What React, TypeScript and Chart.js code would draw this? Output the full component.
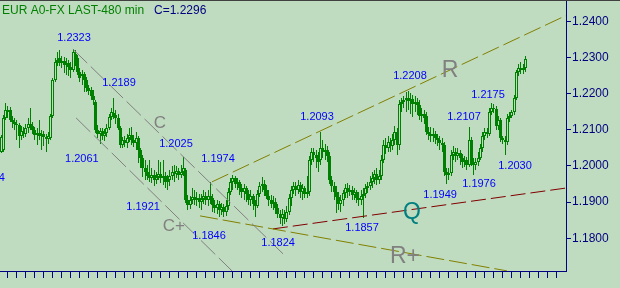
import { useEffect, useRef } from 'react';
import { Chart, registerables } from 'chart.js';

Chart.register(...registerables);

const FONT = '"Liberation Sans", Arial, Helvetica, sans-serif';
const BG = '#C0DCC0';
const GREEN = '#008000';
const NAVY = '#000080';
const BLUE = '#0000FF';
const GRAY = '#808080';
const OLIVE = '#808000';
const MAROON = '#800000';
const TEAL = '#008080';

const TITLE = 'EUR A0-FX LAST-480 min';
const LAST_TEXT = 'C=1.2296';

// 480-minute candles, oldest first
const OPEN = [
  1.2039, 1.2044, 1.2133, 1.2155, 1.2155, 1.2127, 1.2122, 1.2116, 1.2113, 1.2083,
  1.2097, 1.2088, 1.2105, 1.2116, 1.2111, 1.2099, 1.2086, 1.2091, 1.2083, 1.2088,
  1.2080, 1.2075, 1.2077, 1.2138, 1.2238, 1.2287, 1.2299, 1.2285, 1.2290, 1.2279,
  1.2285, 1.2274, 1.2265, 1.2310, 1.2299, 1.2260, 1.2249, 1.2254, 1.2238, 1.2216,
  1.2210, 1.2193, 1.2177, 1.2099, 1.2088, 1.2097, 1.2083, 1.2091, 1.2105, 1.2135,
  1.2146, 1.2141, 1.2133, 1.2105, 1.2058, 1.2072, 1.2064, 1.2077, 1.2086, 1.2072,
  1.2064, 1.2077, 1.2044, 1.2022, 1.1994, 1.1983, 1.1972, 1.1967, 1.1975, 1.1961,
  1.1970, 1.1978, 1.1967, 1.1972, 1.1956, 1.1961, 1.1972, 1.1983, 1.1978, 1.1986,
  1.1975, 1.1983, 1.1989, 1.1906, 1.1892, 1.1906, 1.1914, 1.1906, 1.1912, 1.1900,
  1.1909, 1.1917, 1.1906, 1.1917, 1.1912, 1.1892, 1.1884, 1.1895, 1.1878, 1.1886,
  1.1873, 1.1889, 1.1928, 1.1956, 1.1967, 1.1950, 1.1956, 1.1939, 1.1928, 1.1939,
  1.1923, 1.1906, 1.1917, 1.1895, 1.1889, 1.1923, 1.1945, 1.1950, 1.1934, 1.1917,
  1.1906, 1.1895, 1.1900, 1.1884, 1.1867, 1.1856, 1.1867, 1.1854, 1.1873, 1.1912,
  1.1934, 1.1945, 1.1934, 1.1948, 1.1928, 1.1939, 1.1923, 1.1928, 1.2016, 1.2039,
  1.2030, 1.2022, 1.2016, 1.2050, 1.2039, 1.2044, 1.2028, 1.1961, 1.1945, 1.1928,
  1.1914, 1.1895, 1.1906, 1.1925, 1.1939, 1.1928, 1.1934, 1.1920, 1.1928, 1.1912,
  1.1906, 1.1917, 1.1923, 1.1939, 1.1945, 1.1956, 1.1967, 1.1978, 1.1961, 1.1972,
  1.2016, 1.2058, 1.2050, 1.2066, 1.2055, 1.2072, 1.2094, 1.2058, 1.2171, 1.2177,
  1.2182, 1.2188, 1.2179, 1.2185, 1.2171, 1.2177, 1.2169, 1.2138, 1.2144, 1.2138,
  1.2094, 1.2088, 1.2083, 1.2088, 1.2077, 1.2072, 1.2064, 1.2058, 1.1983, 1.1975,
  1.1981, 1.2030, 1.2039, 1.2028, 1.2036, 1.2022, 1.2011, 1.2016, 1.2003, 1.2072,
  1.2011, 1.2003, 1.2011, 1.2022, 1.2050, 1.2083, 1.2094, 1.2088, 1.2149, 1.2160,
  1.2157, 1.2111, 1.2127, 1.2077, 1.2072, 1.2066, 1.2133, 1.2138, 1.2149, 1.2188,
  1.2260, 1.2271, 1.2265, 1.2271,
];

const HIGH = [
  1.2086, 1.2141, 1.2174, 1.2166, 1.2163, 1.2138, 1.2133, 1.2127, 1.2119, 1.2111,
  1.2108, 1.2116, 1.2133, 1.2160, 1.2122, 1.2108, 1.2105, 1.2127, 1.2099, 1.2097,
  1.2088, 1.2094, 1.2144, 1.2243, 1.2299, 1.2315, 1.2321, 1.2304, 1.2301, 1.2299,
  1.2293, 1.2287, 1.2323, 1.2321, 1.2307, 1.2271, 1.2265, 1.2260, 1.2246, 1.2224,
  1.2218, 1.2210, 1.2182, 1.2113, 1.2105, 1.2105, 1.2102, 1.2116, 1.2144, 1.2160,
  1.2189, 1.2155, 1.2144, 1.2111, 1.2080, 1.2083, 1.2088, 1.2105, 1.2108, 1.2086,
  1.2094, 1.2083, 1.2050, 1.2030, 1.2016, 1.2003, 1.2016, 1.1994, 1.1989, 1.1983,
  1.2016, 1.2011, 1.2016, 1.1983, 1.1975, 1.1989, 1.2000, 1.2003, 1.2000, 1.1994,
  1.2003, 1.2025, 1.1994, 1.1920, 1.1917, 1.1939, 1.1934, 1.1928, 1.1923, 1.1923,
  1.1934, 1.1928, 1.1934, 1.1956, 1.1923, 1.1906, 1.1906, 1.1903, 1.1898, 1.1895,
  1.1906, 1.1939, 1.1967, 1.1975, 1.1972, 1.1967, 1.1961, 1.1950, 1.1950, 1.1945,
  1.1934, 1.1934, 1.1923, 1.1906, 1.1934, 1.1956, 1.1970, 1.1961, 1.1948, 1.1934,
  1.1920, 1.1917, 1.1912, 1.1895, 1.1878, 1.1881, 1.1878, 1.1889, 1.1923, 1.1945,
  1.1956, 1.1956, 1.1961, 1.1956, 1.1950, 1.1945, 1.1972, 1.2028, 1.2050, 1.2050,
  1.2044, 1.2039, 1.2093, 1.2072, 1.2061, 1.2055, 1.2039, 1.1972, 1.1956, 1.1945,
  1.1928, 1.1920, 1.1934, 1.1950, 1.1953, 1.1948, 1.1945, 1.1939, 1.1934, 1.1928,
  1.1934, 1.1939, 1.1950, 1.1956, 1.1972, 1.1983, 1.1989, 1.1994, 1.1989, 1.2030,
  1.2072, 1.2077, 1.2083, 1.2077, 1.2088, 1.2111, 1.2105, 1.2182, 1.2188, 1.2193,
  1.2205, 1.2208, 1.2202, 1.2196, 1.2193, 1.2188, 1.2182, 1.2160, 1.2155, 1.2149,
  1.2108, 1.2108, 1.2105, 1.2097, 1.2088, 1.2083, 1.2077, 1.2066, 1.1994, 1.1994,
  1.2044, 1.2055, 1.2050, 1.2050, 1.2044, 1.2033, 1.2028, 1.2025, 1.2107, 1.2080,
  1.2022, 1.2022, 1.2039, 1.2061, 1.2094, 1.2105, 1.2105, 1.2160, 1.2175, 1.2171,
  1.2166, 1.2138, 1.2133, 1.2083, 1.2083, 1.2144, 1.2149, 1.2155, 1.2196, 1.2265,
  1.2282, 1.2287, 1.2282, 1.2304,
];

const LOW = [
  1.2036, 1.2039, 1.2127, 1.2133, 1.2122, 1.2105, 1.2099, 1.2072, 1.2050, 1.2072,
  1.2077, 1.2080, 1.2091, 1.2099, 1.2088, 1.2072, 1.2058, 1.2072, 1.2044, 1.2055,
  1.2039, 1.2061, 1.2072, 1.2133, 1.2232, 1.2276, 1.2276, 1.2271, 1.2257, 1.2251,
  1.2249, 1.2243, 1.2260, 1.2276, 1.2251, 1.2232, 1.2224, 1.2205, 1.2205, 1.2196,
  1.2182, 1.2169, 1.2091, 1.2077, 1.2061, 1.2072, 1.2069, 1.2080, 1.2099, 1.2127,
  1.2130, 1.2116, 1.2099, 1.2050, 1.2050, 1.2053, 1.2050, 1.2066, 1.2058, 1.2053,
  1.2044, 1.2008, 1.1994, 1.1970, 1.1961, 1.1961, 1.1956, 1.1953, 1.1945, 1.1950,
  1.1961, 1.1953, 1.1948, 1.1939, 1.1934, 1.1945, 1.1961, 1.1956, 1.1967, 1.1961,
  1.1967, 1.1972, 1.1898, 1.1878, 1.1881, 1.1895, 1.1892, 1.1889, 1.1884, 1.1878,
  1.1895, 1.1892, 1.1889, 1.1895, 1.1873, 1.1870, 1.1867, 1.1859, 1.1864, 1.1859,
  1.1862, 1.1878, 1.1920, 1.1934, 1.1939, 1.1934, 1.1920, 1.1912, 1.1906, 1.1900,
  1.1892, 1.1889, 1.1878, 1.1859, 1.1884, 1.1914, 1.1928, 1.1917, 1.1909, 1.1889,
  1.1884, 1.1878, 1.1867, 1.1856, 1.1840, 1.1834, 1.1840, 1.1845, 1.1864, 1.1889,
  1.1923, 1.1917, 1.1923, 1.1912, 1.1906, 1.1912, 1.1912, 1.1917, 1.2003, 1.2011,
  1.1994, 1.1983, 1.2003, 1.2022, 1.2016, 1.2011, 1.1950, 1.1928, 1.1906, 1.1870,
  1.1878, 1.1873, 1.1889, 1.1912, 1.1912, 1.1917, 1.1906, 1.1906, 1.1898, 1.1889,
  1.1892, 1.1857, 1.1912, 1.1925, 1.1934, 1.1939, 1.1950, 1.1948, 1.1950, 1.1961,
  1.2008, 1.2033, 1.2039, 1.2039, 1.2044, 1.2058, 1.2030, 1.2044, 1.2149, 1.2160,
  1.2149, 1.2155, 1.2144, 1.2135, 1.2149, 1.2141, 1.2127, 1.2122, 1.2116, 1.2086,
  1.2072, 1.2066, 1.2066, 1.2061, 1.2055, 1.2044, 1.2039, 1.1972, 1.1949, 1.1961,
  1.1972, 1.2016, 1.2011, 1.2016, 1.2003, 1.1994, 1.1997, 1.1989, 1.1997, 1.2000,
  1.1976, 1.1989, 1.2000, 1.2016, 1.2039, 1.2072, 1.2077, 1.2083, 1.2141, 1.2146,
  1.2099, 1.2099, 1.2066, 1.2061, 1.2030, 1.2058, 1.2122, 1.2133, 1.2141, 1.2182,
  1.2249, 1.2254, 1.2254, 1.2260,
];

const CLOSE = [
  1.2080, 1.2133, 1.2155, 1.2149, 1.2127, 1.2122, 1.2116, 1.2113, 1.2083, 1.2097,
  1.2088, 1.2105, 1.2116, 1.2111, 1.2099, 1.2086, 1.2091, 1.2083, 1.2088, 1.2080,
  1.2075, 1.2083, 1.2138, 1.2238, 1.2287, 1.2293, 1.2285, 1.2290, 1.2279, 1.2285,
  1.2274, 1.2265, 1.2315, 1.2293, 1.2260, 1.2243, 1.2254, 1.2238, 1.2216, 1.2207,
  1.2193, 1.2182, 1.2099, 1.2088, 1.2097, 1.2083, 1.2091, 1.2105, 1.2135, 1.2149,
  1.2141, 1.2133, 1.2105, 1.2058, 1.2072, 1.2064, 1.2077, 1.2086, 1.2072, 1.2064,
  1.2077, 1.2044, 1.2022, 1.1994, 1.1983, 1.1972, 1.1967, 1.1975, 1.1961, 1.1970,
  1.1978, 1.1967, 1.1972, 1.1956, 1.1961, 1.1972, 1.1983, 1.1978, 1.1986, 1.1975,
  1.1983, 1.1994, 1.1906, 1.1892, 1.1906, 1.1914, 1.1906, 1.1912, 1.1900, 1.1909,
  1.1917, 1.1906, 1.1917, 1.1912, 1.1892, 1.1884, 1.1895, 1.1878, 1.1886, 1.1873,
  1.1889, 1.1928, 1.1956, 1.1967, 1.1950, 1.1956, 1.1939, 1.1928, 1.1939, 1.1923,
  1.1906, 1.1917, 1.1895, 1.1889, 1.1923, 1.1945, 1.1950, 1.1934, 1.1917, 1.1906,
  1.1895, 1.1900, 1.1884, 1.1867, 1.1856, 1.1867, 1.1854, 1.1873, 1.1912, 1.1934,
  1.1945, 1.1934, 1.1948, 1.1928, 1.1939, 1.1923, 1.1928, 1.2016, 1.2039, 1.2030,
  1.2022, 1.2011, 1.2050, 1.2039, 1.2044, 1.2028, 1.1961, 1.1945, 1.1928, 1.1914,
  1.1895, 1.1906, 1.1925, 1.1939, 1.1928, 1.1934, 1.1920, 1.1928, 1.1912, 1.1906,
  1.1917, 1.1923, 1.1939, 1.1945, 1.1956, 1.1967, 1.1978, 1.1961, 1.1972, 1.2016,
  1.2058, 1.2050, 1.2066, 1.2055, 1.2072, 1.2094, 1.2058, 1.2171, 1.2177, 1.2182,
  1.2188, 1.2179, 1.2185, 1.2171, 1.2177, 1.2169, 1.2138, 1.2144, 1.2133, 1.2094,
  1.2088, 1.2083, 1.2088, 1.2077, 1.2072, 1.2064, 1.2058, 1.1983, 1.1975, 1.1981,
  1.2030, 1.2039, 1.2028, 1.2036, 1.2022, 1.2011, 1.2016, 1.2003, 1.2072, 1.2011,
  1.2003, 1.2011, 1.2022, 1.2050, 1.2083, 1.2094, 1.2088, 1.2149, 1.2160, 1.2157,
  1.2111, 1.2127, 1.2077, 1.2072, 1.2066, 1.2133, 1.2138, 1.2149, 1.2188, 1.2260,
  1.2271, 1.2265, 1.2271, 1.2296,
];

// price axis labels
const Y_TICKS = [1.18, 1.19, 1.2, 1.21, 1.22, 1.23, 1.24];

// pivot price labels: text, bar position, price position
const PIVOT_TEXT = ['1.1984', '1.2323', '1.2061', '1.2189', '1.1921', '1.2025', '1.1974', '1.1846', '1.1824',
  '1.2093', '1.1857', '1.2208', '1.1949', '1.2107', '1.1976', '1.2175', '1.2030'];
const PIVOT_X = [-5.8, 32.4, 35.9, 52.4, 63.1, 77.7, 96.4, 92.4, 123.1, 140.4, 160.4, 181.7, 195.1, 205.7, 212.4, 216.4, 228.4];
const PIVOT_Y = [1.1970, 1.2357, 1.2022, 1.2232, 1.1889, 1.2064, 1.2022, 1.1809, 1.1790, 1.2138, 1.1831, 1.2251,
  1.1923, 1.2138, 1.1953, 1.2199, 1.2003];

// trend lines: start/end in (bar, price)
const LINE_C = [{ x: 31.9, y: 1.2323 }, { x: 125.3, y: 1.1757 }];
const LINE_C_PLUS = [{ x: 33.3, y: 1.2133 }, { x: 102.6, y: 1.1710 }];
const LINE_R = [{ x: 93.7, y: 1.1956 }, { x: 251.06, y: 1.2416 }];
const LINE_R_PLUS = [{ x: 88.4, y: 1.1862 }, { x: 224.8, y: 1.1710 }];
const LINE_Q = [{ x: 120.8, y: 1.1826 }, { x: 251.06, y: 1.1939 }];

// trend line names
const LINE_NAMES = ['C', 'C+', 'R', 'R+', 'Q'];
const LINE_NAME_X = [70.6, 76.8, 199.5, 179.5, 182.6];
const LINE_NAME_Y = [1.2122, 1.1837, 1.2269, 1.1755, 1.1876];

const X_MIN = -0.5;
const X_MAX = 251.0556;
const Y_MIN = 1.17096;
const Y_MAX = 1.24589;
const BARS_PER_TICK = 4;
const FIRST_TICK = 2.75;

export default function App() {
  const ref = useRef<HTMLCanvasElement | null>(null);

  useEffect(() => {
    document.body.style.margin = '0';
    const canvas = ref.current;
    if (!canvas) return;
    Chart.defaults.font.family = FONT;

    const xTicks: number[] = [];
    for (let v = FIRST_TICK; v < X_MAX - 1; v += BARS_PER_TICK) xTicks.push(v);

    const lineNameStyle = [
      { color: GRAY, size: 17 },
      { color: GRAY, size: 17 },
      { color: GRAY, size: 23 },
      { color: GRAY, size: 23 },
      { color: TEAL, size: 23 },
    ];

    const decor = {
      id: 'decor',
      beforeDraw(chart: any) {
        const ctx = chart.ctx;
        ctx.save();
        ctx.fillStyle = BG;
        ctx.fillRect(0, 0, chart.width, chart.height);
        ctx.restore();
      },
      beforeDatasetsDraw(chart: any) {
        // snap candle elements to whole pixels for crisp rendering
        chart.data.datasets.forEach((ds: any, di: number) => {
          if (ds.type !== 'bar') return;
          const meta = chart.getDatasetMeta(di);
          meta.data.forEach((el: any) => {
            el.x = Math.floor(el.x) + 0.5;
            el.y = Math.round(el.y);
            el.base = Math.round(el.base);
          });
        });
      },
      afterDatasetsDraw(chart: any) {
        const ctx = chart.ctx;
        const xs = chart.scales.x;
        const ys = chart.scales.y;
        ctx.save();
        ctx.textAlign = 'center';
        ctx.textBaseline = 'alphabetic';
        ctx.font = `11px ${FONT}`;
        ctx.fillStyle = BLUE;
        PIVOT_TEXT.forEach((t, i) => {
          const px = xs.getPixelForValue(PIVOT_X[i]);
          const py = ys.getPixelForValue(PIVOT_Y[i]);
          ctx.fillText(t, px, Math.round(py + 11 * 0.358));
        });
        LINE_NAMES.forEach((t, i) => {
          const st = lineNameStyle[i];
          ctx.font = `${st.size}px ${FONT}`;
          ctx.fillStyle = st.color;
          const px = xs.getPixelForValue(LINE_NAME_X[i]);
          const py = ys.getPixelForValue(LINE_NAME_Y[i]);
          ctx.fillText(t, px, Math.round(py + st.size * 0.358));
        });
        ctx.restore();
      },
      afterDraw(chart: any) {
        const ctx = chart.ctx;
        ctx.save();
        ctx.fillStyle = '#404040';
        ctx.fillRect(0, 0, chart.width, 1);
        ctx.font = `12px ${FONT}`;
        ctx.textAlign = 'left';
        ctx.textBaseline = 'alphabetic';
        ctx.fillStyle = GREEN;
        ctx.fillText(TITLE, 2, 14);
        ctx.fillStyle = NAVY;
        ctx.fillText(LAST_TEXT, 154, 14);
        ctx.restore();
      },
    };

    const trend = (data: { x: number; y: number }[], color: string, dash: number[]) => ({
      type: 'line' as const,
      data,
      borderColor: color,
      borderWidth: 1,
      borderDash: dash,
      pointRadius: 0,
      fill: false,
      tension: 0,
      order: 0,
    });

    const noPad = (s: any) => {
      s.paddingTop = 0;
      s.paddingBottom = 0;
      s.paddingLeft = 0;
      s.paddingRight = 0;
    };

    const chart = new Chart(canvas, {
      type: 'bar',
      data: {
        datasets: [
          {
            type: 'bar',
            label: 'range',
            data: LOW.map((l, i) => ({ x: i, y: [l, HIGH[i]] })) as any,
            backgroundColor: GREEN,
            borderWidth: 0,
            barThickness: 1,
            grouped: false,
            inflateAmount: 0,
            order: 3,
          } as any,
          {
            type: 'bar',
            label: 'body',
            data: OPEN.map((o, i) => ({ x: i, y: [o, CLOSE[i]] })) as any,
            backgroundColor: OPEN.map((o, i) => (CLOSE[i] > o ? BG : GREEN)),
            borderColor: GREEN,
            borderWidth: 1,
            borderSkipped: false,
            barThickness: 3,
            grouped: false,
            inflateAmount: 0,
            order: 2,
          } as any,
          trend(LINE_C, GRAY, [20, 5]),
          trend(LINE_C_PLUS, GRAY, [20, 5]),
          trend(LINE_R, OLIVE, [18, 5]),
          trend(LINE_R_PLUS, OLIVE, [18, 5]),
          trend(LINE_Q, MAROON, [15, 5]),
        ] as any,
      },
      options: {
        responsive: false,
        animation: false,
        devicePixelRatio: 1,
        events: [],
        layout: { padding: 0, autoPadding: false },
        plugins: {
          legend: { display: false },
          tooltip: { enabled: false },
          title: { display: false },
        },
        scales: {
          x: {
            type: 'linear',
            min: X_MIN,
            max: X_MAX,
            offset: false,
            afterBuildTicks: (s: any) => {
              s.ticks = xTicks.map((v) => ({ value: v }));
            },
            afterFit: (s: any) => {
              s.height = 17;
              noPad(s);
            },
            ticks: { display: false },
            grid: { drawOnChartArea: false, drawTicks: true, tickLength: 7, color: NAVY, lineWidth: 1, offset: false },
            border: { display: true, color: NAVY, width: 1 },
          },
          y: {
            type: 'linear',
            position: 'right',
            min: Y_MIN,
            max: Y_MAX,
            afterBuildTicks: (s: any) => {
              s.ticks = Y_TICKS.map((v) => ({ value: v }));
            },
            afterFit: (s: any) => {
              s.width = 54;
              noPad(s);
            },
            ticks: {
              color: NAVY,
              font: { size: 12, family: FONT },
              padding: 1,
              autoSkip: false,
              callback: (v: any) => Number(v).toFixed(4),
            },
            grid: { drawOnChartArea: false, drawTicks: true, tickLength: 5, color: NAVY, lineWidth: 1 },
            border: { display: true, color: NAVY, width: 1 },
          },
        },
      } as any,
      plugins: [decor],
    });

    return () => chart.destroy();
  }, []);

  return (
    <div style={{ width: 620, height: 288 }}>
      <canvas ref={ref} width={620} height={288} style={{ display: 'block' }} />
    </div>
  );
}
